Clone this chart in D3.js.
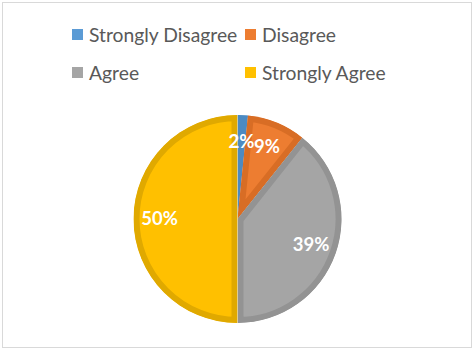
<!DOCTYPE html>
<html>
<head>
<meta charset="utf-8">
<script src="https://cdn.jsdelivr.net/npm/d3@7"></script>
<style>
  body { margin: 0; background: #fff; }
  svg { display: block; }
</style>
</head>
<body>
<svg id="chart"></svg>
<script>
// data
var categories = ["Strongly Disagree", "Disagree", "Agree", "Strongly Agree"];
var values = [1.6, 9.1, 39.3, 50.0];
var colors = ["#5B9BD5", "#ED7D31", "#A5A5A5", "#FFC000"];
var edgeColors = ["#4C8AC2", "#D86D25", "#939393", "#E0A900"];

var width = 474, height = 350;
var svg = d3.select("#chart")
    .attr("width", width)
    .attr("height", height);

// outer frame
svg.append("rect")
    .attr("x", 2.5).attr("y", 2.5)
    .attr("width", width - 5).attr("height", height - 5)
    .attr("fill", "#fff")
    .attr("stroke", "#d9d9d9")
    .attr("stroke-width", 1);

// legend, two rows of two
var legendX = [72, 245], legendY = [35, 73];
var legend = svg.append("g").selectAll("g")
    .data(categories)
    .enter().append("g")
    .attr("transform", function (d, i) {
        return "translate(" + legendX[i % 2] + "," + legendY[Math.floor(i / 2)] + ")";
    });
legend.append("rect")
    .attr("x", 0).attr("y", -6)
    .attr("width", 11).attr("height", 11)
    .attr("fill", function (d, i) { return colors[i]; });
legend.append("text")
    .attr("x", 17).attr("y", 0)
    .attr("dy", "0.35em")
    .style("font-family", "Lato, 'Open Sans', sans-serif")
    .style("font-size", "19.3px")
    .style("fill", "#595959")
    .text(function (d) { return d; });

// pie
var cx = 237.5, cy = 219, r = 104;
var pie = d3.pie().sort(null).value(function (d) { return d; });
var arc = d3.arc().innerRadius(0).outerRadius(r);
var labelArc = d3.arc().innerRadius(r * 0.75).outerRadius(r * 0.75);
var arcs = pie(values);

var g = svg.append("g")
    .attr("transform", "translate(" + cx + "," + cy + ")");

var defs = svg.append("defs");
arcs.forEach(function (a, i) {
    defs.append("clipPath").attr("id", "clip" + i)
        .append("path").attr("d", arc(a));
});

// each slice: fill plus an inner darker edge (stroke clipped to the slice)
g.selectAll("path.slice")
    .data(arcs)
    .enter().append("path")
    .attr("class", "slice")
    .attr("d", arc)
    .attr("clip-path", function (d, i) { return "url(#clip" + i + ")"; })
    .attr("fill", function (d, i) { return colors[i]; })
    .attr("stroke", function (d, i) { return edgeColors[i]; })
    .attr("stroke-width", 12)
    .attr("stroke-linejoin", "round");

g.selectAll("text.lbl")
    .data(arcs)
    .enter().append("text")
    .attr("class", "lbl")
    .attr("transform", function (d) { return "translate(" + labelArc.centroid(d) + ")"; })
    .attr("text-anchor", "middle")
    .attr("dy", "0.35em")
    .style("font-family", "Lato, 'Open Sans', sans-serif")
    .style("font-weight", "bold")
    .style("font-size", "18.5px")
    .style("fill", "#fff")
    .text(function (d) { return Math.round(d.value) + "%"; });
</script>
</body>
</html>
